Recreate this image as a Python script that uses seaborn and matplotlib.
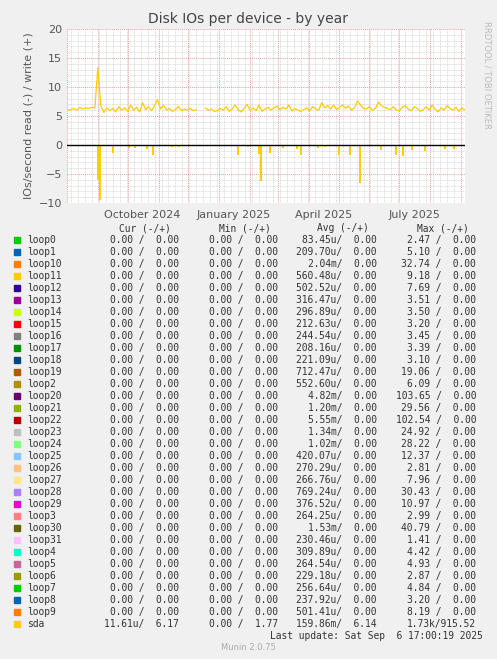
import numpy as np
import pandas as pd
import matplotlib
matplotlib.use("Agg")
import matplotlib.pyplot as plt
import matplotlib.dates as mdates
import seaborn as sns

# ---- data ----
write_start = "2024-08-02"
write_vals = [6.0,6.1,6.3,6.0,6.5,6.2,6.4,6.3,6.5,6.4,
              13.3,6.8,5.6,6.4,5.9,6.3,5.7,6.6,6.0,6.4,
              5.8,6.9,6.0,6.5,5.7,7.3,6.1,6.6,5.9,6.8,
              7.8,6.2,6.9,6.0,6.3,5.8,6.1,6.7,5.9,6.2,
              6.0,6.3,5.9,6.1,np.nan,np.nan,6.4,6.0,6.2,5.8,
              5.9,6.3,6.0,6.6,5.8,6.2,6.9,6.1,5.7,6.3,
              7.0,6.0,6.4,5.9,6.9,5.8,6.2,6.5,6.0,6.4,
              6.7,6.1,6.5,6.2,6.9,5.9,6.3,6.0,5.8,6.1,
              6.4,5.9,6.6,6.2,6.0,7.3,6.4,6.8,6.2,6.9,
              6.1,6.5,6.9,6.3,6.7,6.0,6.4,7.6,6.9,6.3,
              6.2,6.6,6.0,6.3,7.4,6.8,6.5,6.3,6.1,6.6,
              6.0,5.9,6.5,6.8,6.2,5.9,6.6,6.3,5.8,6.1,
              6.6,6.0,6.9,6.2,5.7,6.4,6.0,6.8,6.3,6.0,
              6.5,5.8,6.4,6.0]
read_dates = ["2024-09-01","2024-09-03","2024-09-16","2024-10-02","2024-10-08","2024-10-20",
              "2024-10-26","2024-11-15","2024-11-22","2025-01-20","2025-01-30","2025-02-10",
              "2025-02-12","2025-02-21","2025-03-06","2025-03-20","2025-03-24","2025-04-10",
              "2025-04-17","2025-05-01","2025-05-12","2025-05-22","2025-06-13","2025-06-28",
              "2025-07-05","2025-07-14","2025-07-27","2025-08-16","2025-08-25"]
read_vals = [-6.0,-9.5,-1.3,-0.6,-0.6,-0.7,-1.8,-0.4,-0.3,-1.7,-0.4,-1.5,-6.2,-1.3,-0.6,
             -0.7,-1.8,-0.6,-0.3,-1.8,-1.8,-6.5,-0.9,-1.7,-1.9,-0.8,-1.1,-0.7,-0.7]

names = ["loop0","loop1","loop10","loop11","loop12","loop13","loop14","loop15","loop16",
         "loop17","loop18","loop19","loop2","loop20","loop21","loop22","loop23","loop24",
         "loop25","loop26","loop27","loop28","loop29","loop3","loop30","loop31","loop4",
         "loop5","loop6","loop7","loop8","loop9","sda"]
colors = ["#00CC00","#0066B3","#FF8000","#FFCC00","#330099","#990099","#CCFF00","#FF0000",
          "#808080","#008F00","#00487D","#B35A00","#B38F00","#6B006B","#8FB300","#B30000",
          "#BEBEBE","#80FF80","#80C9FF","#FFC080","#FFE680","#AA80FF","#EE00CC","#FF8080",
          "#666600","#FFBFFF","#00FFCC","#CC6699","#999900","#00CC00","#0066B3","#FF8000","#FFCC00"]
cur = ["0.00 /  0.00"]*32 + ["11.61u/  6.17"]
mins = ["0.00 /  0.00"]*32 + ["0.00 /  1.77"]
avg = ["83.45u/  0.00","209.70u/  0.00","2.04m/  0.00","560.48u/  0.00","502.52u/  0.00",
       "316.47u/  0.00","296.89u/  0.00","212.63u/  0.00","244.54u/  0.00","208.16u/  0.00",
       "221.09u/  0.00","712.47u/  0.00","552.60u/  0.00","4.82m/  0.00","1.20m/  0.00",
       "5.55m/  0.00","1.34m/  0.00","1.02m/  0.00","420.07u/  0.00","270.29u/  0.00",
       "266.76u/  0.00","769.24u/  0.00","376.52u/  0.00","264.25u/  0.00","1.53m/  0.00",
       "230.46u/  0.00","309.89u/  0.00","264.54u/  0.00","229.18u/  0.00","256.64u/  0.00",
       "237.92u/  0.00","501.41u/  0.00","159.86m/  6.14"]
maxs = ["2.47 /  0.00","5.10 /  0.00","32.74 /  0.00","9.18 /  0.00","7.69 /  0.00",
        "3.51 /  0.00","3.50 /  0.00","3.20 /  0.00","3.45 /  0.00","3.39 /  0.00",
        "3.10 /  0.00","19.06 /  0.00","6.09 /  0.00","103.65 /  0.00","29.56 /  0.00",
        "102.54 /  0.00","24.92 /  0.00","28.22 /  0.00","12.37 /  0.00","2.81 /  0.00",
        "7.96 /  0.00","30.43 /  0.00","10.97 /  0.00","2.99 /  0.00","40.79 /  0.00",
        "1.41 /  0.00","4.42 /  0.00","4.93 /  0.00","2.87 /  0.00","4.84 /  0.00",
        "3.20 /  0.00","8.19 /  0.00","1.73k/915.52"]

# ---- figure ----
sns.set_style("white")
plt.rcParams['font.family'] = ['DejaVu Sans']
W, H = 497, 659
fig = plt.figure(figsize=(W/100, H/100), dpi=100, facecolor="#F0F0F0")
ax = fig.add_axes([67/W, 1-203/H, (465-67)/W, (203-29)/H])
ax.set_facecolor("white")

wdates = pd.date_range(write_start, periods=len(write_vals), freq="3D")
df = pd.DataFrame({"date": wdates, "v": write_vals})
isn = df["v"].isna()
gi = np.where(isn)[0]
seg1 = df.iloc[:gi[0]]
seg2 = df.iloc[gi[-1]+1:]
for seg in (seg1, seg2):
    sns.lineplot(data=seg, x="date", y="v", ax=ax, color="#FFCC00", linewidth=0.9)
rd = pd.to_datetime(read_dates)
ax.vlines(rd, 0, read_vals, color="#FFCC00", linewidth=1.4)
ax.axhline(0, color="black", linewidth=1)

x0, x1 = pd.Timestamp("2024-08-01"), pd.Timestamp("2025-09-05")
ax.set_xlim(x0, x1)
ax.set_ylim(-10, 20)
ax.set_yticks([-10, -5, 0, 5, 10, 15, 20])
ax.set_yticks(np.arange(-10, 21, 1), minor=True)
ax.xaxis.set_major_locator(mdates.MonthLocator())
ax.xaxis.set_minor_locator(mdates.WeekdayLocator(byweekday=0))
ax.xaxis.set_major_formatter(plt.NullFormatter())
ax.grid(which="minor", color="#C8C8C8", linestyle=(0, (1, 1)), linewidth=0.5)
ax.grid(which="major", color="#E8A0A0", linestyle=(0, (1, 1)), linewidth=0.7)
ax.tick_params(axis="both", which="both", length=0, labelsize=8, colors="#555555")
for lbl, d in [("October 2024", "2024-10-16"), ("January 2025", "2025-01-16"),
               ("April 2025", "2025-04-16"), ("July 2025", "2025-07-16")]:
    ax.text(pd.Timestamp(d), -11.2, lbl, ha="center", va="top", fontsize=8, color="#555555")
for s in ax.spines.values():
    s.set_visible(False)
ax.set_xlabel("")
ax.set_ylabel("IOs/second read (-) / write (+)", fontsize=8, color="#555555")

fig.text(248/W, 1-19/H, "Disk IOs per device - by year", ha="center", va="center",
         fontsize=10, color="#444444")
fig.text(487/W, 1-75/H, "RRDTOOL / TOBI OETIKER", rotation=270, ha="center", va="center",
         fontsize=6, color="#BBBBBB")

mono = "DejaVu Sans Mono"
fs = 6.9
tc = "#333333"
hy = 1 - 228/H
for t, xc in [("Cur (-/+)", 145), ("Min (-/+)", 245), ("Avg (-/+)", 343), ("Max (-/+)", 443)]:
    fig.text(xc/W, hy, t, ha="center", va="center", family=mono, fontsize=fs, color=tc)
for i, n in enumerate(names):
    y = 1 - (240 + 12*i)/H
    fig.patches.append(plt.Rectangle((14/W, y-3/H), 6/W, 6/H, transform=fig.transFigure,
                                     color=colors[i], figure=fig))
    fig.text(27/W, y, n, ha="left", va="center", family=mono, fontsize=fs, color=tc)
    fig.text(179/W, y, cur[i], ha="right", va="center", family=mono, fontsize=fs, color=tc)
    fig.text(278/W, y, mins[i], ha="right", va="center", family=mono, fontsize=fs, color=tc)
    fig.text(377/W, y, avg[i], ha="right", va="center", family=mono, fontsize=fs, color=tc)
    fig.text(476/W, y, maxs[i], ha="right", va="center", family=mono, fontsize=fs, color=tc)
fig.text(483/W, 1-636/H, "Last update: Sat Sep  6 17:00:19 2025", ha="right", va="center",
         family=mono, fontsize=fs, color=tc)
fig.text(248/W, 1-648/H, "Munin 2.0.75", ha="center", va="center", fontsize=6, color="#AAAAAA")

fig.savefig("out.png", dpi=100, facecolor=fig.get_facecolor())
